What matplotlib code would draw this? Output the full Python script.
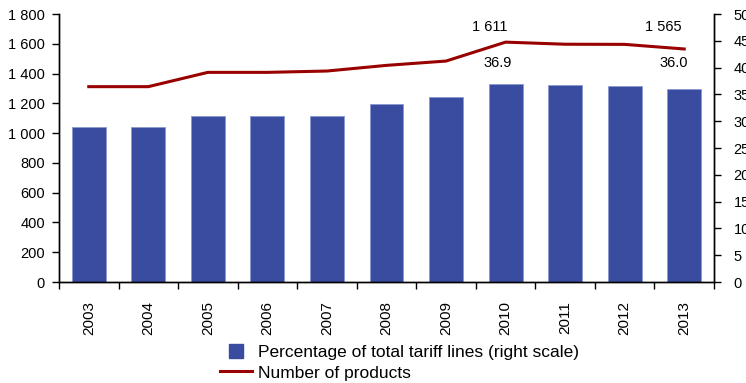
import matplotlib.pyplot as plt
import numpy as np
from matplotlib.lines import Line2D
from matplotlib.ticker import FuncFormatter

plt.rcParams['font.family'] = ['Liberation Sans', 'DejaVu Sans']

years = ['2003', '2004', '2005', '2006', '2007', '2008', '2009', '2010', '2011', '2012', '2013']
share_pct = [28.9, 28.9, 31.0, 31.0, 31.0, 33.3, 34.5, 36.9, 36.7, 36.5, 36.0]
n_products = [1312, 1312, 1408, 1408, 1417, 1455, 1484, 1611, 1597, 1596, 1565]

bar_color = '#3a4ca0'
line_color = '#990000'

fig = plt.figure(figsize=(7.46, 3.83), dpi=100)
ax1 = fig.add_axes([59 / 746, 1 - 282 / 383, 655 / 746, 268 / 383])
ax2 = ax1.twinx()

x = np.arange(len(years))
ax2.bar(x, share_pct, width=0.57, color=bar_color, edgecolor='#8a98cf', linewidth=0.6)
ax1.plot(x, n_products, color=line_color, linewidth=2.2, solid_joinstyle='miter')

# line above bars
ax1.set_zorder(ax2.get_zorder() + 1)
ax1.patch.set_visible(False)

ax1.set_xlim(-0.5, len(years) - 0.5)
ax1.set_ylim(0, 1800)
ax1.set_yticks(np.arange(0, 1801, 200))
ax1.yaxis.set_major_formatter(FuncFormatter(lambda v, p: f'{int(v):,}'.replace(',', ' ')))
ax2.set_ylim(0, 50)
ax2.set_yticks(np.arange(0, 51, 5))

# category boundaries get tick marks, labels sit in the middle
ax1.set_xticks(x)
ax1.set_xticklabels(years, rotation=90)
ax1.set_xticks(np.arange(-0.5, len(years), 1.0), minor=True)
ax1.tick_params(axis='x', which='major', length=0, pad=14, labelsize=11)
ax1.tick_params(axis='x', which='minor', length=5, direction='out', width=1.0)

for a in (ax1, ax2):
    a.spines['top'].set_visible(False)
    for s in ('left', 'right', 'bottom'):
        a.spines[s].set_linewidth(1.0)
    a.tick_params(axis='y', labelsize=10.5, color='black', width=1.0, length=5)
ax1.tick_params(axis='y', pad=5)
ax2.tick_params(axis='y', pad=9)

# value labels
ax1.annotate('1 611', xy=(7, n_products[7]), xytext=(-16, 15), textcoords='offset pixels',
             ha='center', va='center', fontsize=10.5)
ax1.annotate('1 565', xy=(10, n_products[10]), xytext=(-21, 22), textcoords='offset pixels',
             ha='center', va='center', fontsize=10.5)
ax2.annotate('36.9', xy=(7, share_pct[7]), xytext=(-8, 21), textcoords='offset pixels',
             ha='center', va='center', fontsize=10.5)
ax2.annotate('36.0', xy=(10, share_pct[10]), xytext=(-11, 26), textcoords='offset pixels',
             ha='center', va='center', fontsize=10.5)

handles = [
    Line2D([], [], marker='s', color='none', markerfacecolor=bar_color, markeredgecolor=bar_color,
           markersize=10),
    Line2D([], [], color=line_color, linewidth=2.2),
]
labels = ['Percentage of total tariff lines (right scale)', 'Number of products']
fig.legend(handles, labels, loc='upper left', bbox_to_anchor=(220 / 746, 1 - 345 / 383),
           frameon=False, fontsize=12.5, handlelength=1.85, handletextpad=0.35,
           labelspacing=0.3, borderpad=0, borderaxespad=0)

fig.savefig('out.png', dpi=100)
